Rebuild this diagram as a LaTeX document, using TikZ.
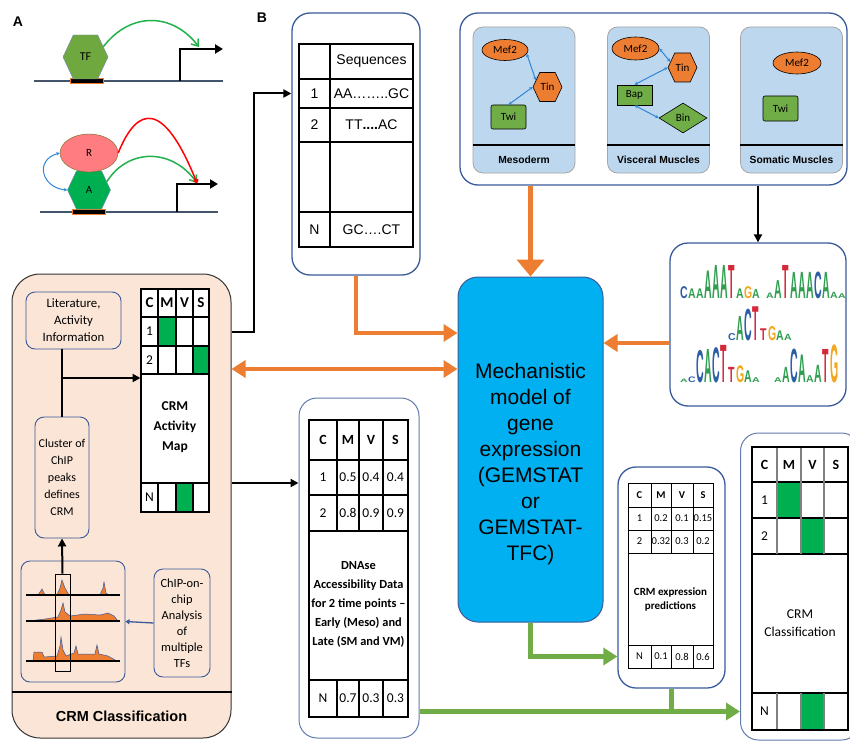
\documentclass[tikz,border=0pt]{standalone}
\usepackage{fontspec}
\setmainfont{Liberation Sans}
\newfontfamily\calib{Carlito}
\usepackage{xcolor}
\usepackage{tikz}
\usetikzlibrary{
  arrows.meta,
  positioning,
  calc,
  shapes.geometric,
  shapes.symbols}
\definecolor{boxblue}{HTML}{3A5A9A}
\definecolor{peach}{HTML}{FBE5D6}
\definecolor{cyanbox}{HTML}{00B0F0}
\definecolor{panelblue}{HTML}{BDD7EE}
\definecolor{orangeA}{HTML}{ED7D31}
\definecolor{greenA}{HTML}{70AD47}
\definecolor{greenC}{HTML}{00B050}
\definecolor{tfgreen}{HTML}{70A840}
\definecolor{pinkR}{HTML}{FF7C80}
\definecolor{slate}{HTML}{44546A}
\definecolor{linkblue}{HTML}{2E86D6}
\definecolor{curvegreen}{HTML}{22B14C}
\definecolor{mA}{HTML}{2E9E4F}
\definecolor{mC}{HTML}{2C5EA8}
\definecolor{mG}{HTML}{F2A81D}
\definecolor{mT}{HTML}{D62839}
\tikzset{rbox/.style={draw=boxblue, line width=1.3pt, rounded corners=18pt, fill=white, inner sep=0pt},
         sbox/.style={draw=boxblue, line width=0.9pt, rounded corners=9pt, fill=peach, inner sep=1pt, align=center,
                      font=\calib\fontsize{12.8}{17}\selectfont},
         subp/.style={draw=gray!70, fill=panelblue, rounded corners=10pt, minimum width=102, minimum height=146, line width=0.8pt},
         hexa/.style={signal, signal to=east and west, signal pointer angle=130, inner sep=0pt},
         tfn/.style={draw=black, line width=0.6pt, inner sep=0pt, font=\calib\fontsize{11}{12}\selectfont},
         dna/.style={draw=slate, line width=2pt},
         bar/.style={draw=orangeA, fill=black, line width=0.6pt, minimum width=33, minimum height=5, inner sep=0pt},
         prom/.style={draw=black, line width=2.2pt, -{Triangle[length=8pt,width=9pt]}},
         gline/.style={draw=curvegreen, line width=1.5pt, -{Straight Barb[length=6pt,width=9pt]}},
         rline/.style={draw=red, line width=1.5pt, -{Circle[length=5pt]}},
         blink/.style={draw=linkblue, line width=1pt, {Stealth[length=3.5pt,width=3.5pt]}-{Stealth[length=3.5pt,width=3.5pt]}},
         oarr/.style={draw=orangeA, line width=4.5pt, -{Triangle[length=14pt,width=17pt]}},
         garr/.style={draw=greenA, line width=4.5pt, -{Triangle[length=14pt,width=17pt]}},
         karr/.style={draw=black, line width=2pt, -{Triangle[length=8pt,width=8pt]}},
         tabl/.style={draw=black, line width=1.2pt},
         cell/.style={inner sep=0pt, font=\calib\fontsize{13.5}{15}\selectfont},
         hcell/.style={inner sep=0pt, font=\calib\bfseries\fontsize{14}{15}\selectfont},
         scell/.style={inner sep=0pt, font=\fontsize{14}{15}\selectfont}
        }
\newcommand{\mlogo}[4]{%
  \foreach \l/\h [count=\i] in {#4}
    \node[inner sep=0pt, anchor=south west, font=\bfseries\fontsize{10}{10}\selectfont]
      at ({#2+(\i-1)*8},#3)(#1\i){\scalebox{1.05}[\h]{\color{m\l}\l}};}

\begin{document}
\begin{tikzpicture}[x=1pt,y=-1pt]
\useasboundingbox (0,0) rectangle (850,741);

\node[font=\bfseries\fontsize{14}{16}\selectfont] at (18,22)(labA){A};
\node[font=\bfseries\fontsize{14}{16}\selectfont] at (262,18)(labB){B};

\draw[dna] (34,81) -- (223,81);
\node[bar] at (86.5,81)(bar1){};
\node[hexa, draw=boxblue!70, fill=tfgreen, minimum width=45, minimum height=44, font=\calib\fontsize{12}{13}\selectfont] at (85.5,57)(tf){TF};
\coordinate (tss1) at (199,47);
\draw[prom] (180,81) -- (180,49) -- (223,49);
\draw[gline] (tf.30) .. controls (130,12) and (172,12) .. (tss1);

\draw[dna] (40,212) -- (218,212);
\node[bar] at (89,212)(bar2){};
\node[hexa, draw=boxblue!70, fill=greenC, minimum width=43, minimum height=38, font=\calib\fontsize{11}{12}\selectfont] at (89,190)(actA){A};
\node[ellipse, draw=olive!70!black, fill=pinkR, minimum width=58, minimum height=38, inner sep=0pt, font=\calib\fontsize{11}{12}\selectfont] at (89,153)(repR){R};
\coordinate (tss2) at (197,183);
\draw[prom] (177,212) -- (177,184) -- (218,184);
\draw[gline] (actA.25) .. controls (128,148) and (172,148) .. (tss2);
\draw[rline] (repR.east) .. controls (138,104) and (164,102) .. (tss2);
\draw[blink] (repR.west) .. controls (34,160) and (42,188) .. (actA.west);

\node[draw=black!80, fill=peach, rounded corners=28pt, line width=1pt, minimum width=219, minimum height=464] at (121.5,506)(lbox){};
\draw[line width=1.3pt] (lbox.west |- 0,692) -- (lbox.east |- 0,692);
\node[font=\bfseries\fontsize{14.5}{16}\selectfont] at (121.5,716)(lclass){CRM Classification};
\node[sbox, minimum width=95, minimum height=57] at (73.5,320.5)(lit){Literature,\\Activity\\Information};
\node[sbox, minimum width=54, minimum height=121, font=\calib\fontsize{12}{17}\selectfont] at (62,477.5)(clu){Cluster of\\ChIP\\peaks\\defines\\CRM};
\node[sbox, minimum width=104, minimum height=121] at (73,621.5)(peaks){};
\node[sbox, minimum width=56, minimum height=108, font=\calib\fontsize{12.4}{16}\selectfont] at (182,623)(chip){ChIP-on-\\chip\\Analysis\\of\\multiple\\TFs};

\filldraw[fill=orangeA, draw=boxblue, line width=0.5pt] (27,595) -- (38,595) -- (42,589) -- (45,595) -- (57,595) -- (60,588) -- (62,580) -- (65,588) -- (69,595) -- (100,595) -- (103,588) -- (104,582) -- (106,593) -- (109,595) -- cycle;
\filldraw[fill=orangeA, draw=boxblue, line width=0.5pt] (28,621) -- (45,619) -- (58,617) -- (61,610) -- (63,603) -- (65,612) -- (70,616) -- (85,614) -- (100,615) -- (108,613) -- (114,616) -- (118,621) -- cycle;
\filldraw[fill=orangeA, draw=boxblue, line width=0.5pt] (33,661) -- (34,652) -- (42,652) -- (44,657) -- (57,656) -- (60,646) -- (61,637) -- (63,650) -- (66,656) -- (74,653) -- (76,646) -- (78,654) -- (95,654) -- (97,645) -- (99,654) -- (108,656) -- (117,661) -- cycle;
\foreach \yb in {595,621,661} \draw[line width=1.3pt] (26,\yb) -- (120,\yb);
\node[draw=black, line width=0.8pt, minimum width=15, minimum height=97, inner sep=0pt] at (62.5,622.5)(win){};

\node[draw=black, line width=1pt, fill=white, minimum width=68, minimum height=223, inner sep=0pt] at (175,400.5)(map){};
\fill[greenC] (158,317) rectangle (176,346) (193,346) rectangle (209,374) (176,483) rectangle (193,512);
\foreach \yl in {317,346,374,483} \draw[tabl] (141,\yl) -- (209,\yl);
\foreach \xl in {158,176,193} \draw[tabl] (\xl,289) -- (\xl,374) (\xl,483) -- (\xl,512);
\draw[tabl] (141,289) rectangle (209,512);
\foreach \t/\x [count=\i] in {C/149.5,M/167,V/184.5,S/201} \node[hcell, font=\calib\bfseries\fontsize{15}{16}\selectfont] at (\x,303)(mh\i){\t};
\node[cell] at (149.5,331.5)(map1){1};
\node[cell] at (149.5,360)(map2){2};
\node[cell] at (149.5,497.5)(mapN){N};
\node[align=center, font=\calib\bfseries\fontsize{13.5}{20}\selectfont] at (175,427)(maptxt){CRM\\Activity\\Map};

\node[rbox, minimum width=128, minimum height=262] at (356,144)(seqbox){};
\draw[line width=1.4pt] (299,44) rectangle (413,247);
\foreach \yl in {79,108,142,212} \draw[line width=1.4pt] (299,\yl) -- (413,\yl);
\draw[line width=1.4pt] (330,44) -- (330,247);
\node[scell] at (371.5,61.5)(seqh){Sequences};
\node[scell] at (314.5,93.5)(seq1){1};
\node[scell] at (371.5,93.5)(seq1s){AA……..GC};
\node[scell] at (314.5,125)(seq2){2};
\node[scell] at (371.5,125)(seq2s){TT\textbf{....}AC};
\node[scell] at (314.5,229.5)(seqN){N};
\node[scell] at (371.5,229.5)(seqNs){GC….CT};

\node[rbox, minimum width=387, minimum height=172] at (653.5,99)(panel){};
\foreach \cx/\lab/\nm in {524/Mesoderm/meso, 658.5/Visceral Muscles/visc, 791.5/Somatic Muscles/soma}{
  \node[subp] at (\cx,100)(\nm){};
  \draw[line width=1.3pt] (\nm.west |- 0,145) -- (\nm.east |- 0,145);
  \node[font=\bfseries\fontsize{10.3}{11}\selectfont] at (\cx,160)(\nm lab){\lab};
}
\node[tfn, ellipse, fill=orangeA, minimum width=46, minimum height=21] at (505,50)(mmef){Mef2};
\node[tfn, hexa, fill=orangeA, minimum width=29, minimum height=29] at (547.5,87)(mtin){Tin};
\node[tfn, rectangle, rounded corners=2pt, fill=greenA, minimum width=35, minimum height=24] at (508.5,117)(mtwi){Twi};
\draw[blink] (mmef.-10) -- (mtin.150);
\draw[blink] (mtin.west) -- (mtwi.north);
\node[tfn, ellipse, fill=orangeA, minimum width=47, minimum height=23] at (635.5,48.5)(vmef){Mef2};
\node[tfn, hexa, fill=orangeA, minimum width=29, minimum height=29] at (682.5,67.5)(vtin){Tin};
\node[tfn, rectangle, fill=greenA, minimum width=35, minimum height=20] at (634.5,95)(vbap){Bap};
\node[tfn, diamond, fill=greenA, minimum width=48, minimum height=30] at (683,118)(vbin){Bin};
\draw[blink] (vmef.east) -- (vtin.155);
\draw[blink] (vtin.west) -- (vbap.north);
\draw[blink] (vbap.south) -- (vbin.west);
\node[tfn, ellipse, fill=orangeA, minimum width=48, minimum height=22] at (797,63)(smef){Mef2};
\node[tfn, rectangle, rounded corners=2pt, fill=greenA, minimum width=35, minimum height=25] at (780.5,108.5)(stwi){Twi};

\node[rbox, minimum width=176, minimum height=163] at (758,324.5)(motif){};
\mlogo{la}{680}{299}{C/1.7,A/1.4,A/1.4,A/4.0,A/4.8,A/4.8,T/4.8,A/1.4,G/1.7,A/1.3}
\mlogo{lb}{766}{299}{A/0.8,A/2.6,T/4.8,A/3.8,A/3.8,A/3.8,C/3.8,A/3.8,A/0.9,A/0.7}
\mlogo{lc}{728}{341}{C/1.0,A/3.5,C/4.5,T/4.9,T/1.7,G/2.0,A/1.4,A/0.9}
\mlogo{ld}{680}{383}{A/0.5,C/0.8,C/4.6,A/4.8,C/5.0,T/5.4,T/2.2,G/2.4,A/1.7,A/0.7}
\mlogo{le}{774}{383}{A/0.7,A/2.2,C/4.8,A/4.0,A/1.0,A/2.5,T/4.8,G/5.4}

\node[draw=boxblue, line width=1pt, fill=cyanbox, rounded corners=20pt, minimum width=145, minimum height=345] at (530.5,449.5)(model){};
\node[align=center, font=\fontsize{21}{26}\selectfont] at (530.5,464)(modeltxt){Mechanistic\\model of\\gene\\expression\\(GEMSTAT\\or\\GEMSTAT-\\TFC)};

\node[rbox, draw=boxblue!80, line width=1pt, minimum width=120, minimum height=340] at (359,568)(dnabox){};
\foreach \yl in {460,495,531,680} \draw[tabl] (309,\yl) -- (408,\yl);
\foreach \xl in {337,359,383} \draw[tabl] (\xl,420) -- (\xl,531) (\xl,680) -- (\xl,717);
\draw[tabl] (309,420) rectangle (408,717);
\foreach \t/\x [count=\i] in {C/323,M/348,V/371,S/395.5} \node[hcell] at (\x,440)(dh\i){\t};
\foreach \a/\b/\c/\d/\y/\r in {1/0.5/0.4/0.4/477.5/1, 2/0.8/0.9/0.9/513/2, N/0.7/0.3/0.3/698.5/N}{
  \node[cell] at (323,\y)(dna\r){\a};
  \node[cell] at (348,\y)(dna\r m){\b};
  \node[cell] at (371,\y)(dna\r v){\c};
  \node[cell] at (395.5,\y)(dna\r s){\d};
}
\node[align=center, font=\calib\bfseries\fontsize{12.4}{19}\selectfont] at (358.5,604)(dnatxt){DNAse\\Accessibility Data\\for 2 time points –\\Early (Meso) and\\Late (SM and VM)};

\node[rbox, line width=1.3pt, minimum width=107, minimum height=221] at (671.5,577.5)(pred){};
\foreach \yl in {507,530,553,645} \draw[line width=1pt] (628,\yl) -- (713,\yl);
\foreach \xl in {651,671,693} \draw[line width=1pt] (\xl,483) -- (\xl,553) (\xl,645) -- (\xl,668);
\draw[line width=1pt] (628,483) rectangle (713,668);
\foreach \t/\x [count=\i] in {C/639.5,M/661,V/682,S/703} \node[hcell, font=\calib\bfseries\fontsize{10.5}{11}\selectfont] at (\x,495)(ph\i){\t};
\foreach \a/\b/\c/\d/\y/\r in {1/0.2/0.1/0.15/518.5/1, 2/0.32/0.3/0.2/541.5/2, N/0.1/0.8/0.6/656.5/N}{
  \node[cell, font=\calib\fontsize{10.5}{11}\selectfont] at (639.5,\y)(pred\r){\a};
  \node[cell, font=\calib\fontsize{10.5}{11}\selectfont] at (661,\y)(pred\r m){\b};
  \node[cell, font=\calib\fontsize{10.5}{11}\selectfont] at (682,\y)(pred\r v){\c};
  \node[cell, font=\calib\fontsize{10.5}{11}\selectfont] at (703,\y)(pred\r s){\d};
}
\node[align=center, font=\calib\bfseries\fontsize{11}{14}\selectfont] at (670.5,599)(predtxt){CRM expression\\predictions};

\node[rbox, draw=boxblue!80, line width=1pt, minimum width=119, minimum height=307] at (800,586.5)(clsbox){};
\fill[greenC] (777,482) rectangle (801,518) (801,518) rectangle (824,554) (801,693) rectangle (824,730);
\foreach \yl in {482,518,554,693} \draw[tabl] (752,\yl) -- (848,\yl);
\foreach \xl in {777,801,824} \draw[draw=gray, line width=1.6pt] (\xl,447) -- (\xl,554) (\xl,693) -- (\xl,730);
\draw[tabl] (752,447) rectangle (848,730);
\foreach \t/\x [count=\i] in {C/764.5,M/789,V/812.5,S/836} \node[hcell] at (\x,464.5)(ch\i){\t};
\node[cell] at (764.5,500)(cls1){1};
\node[cell] at (764.5,536)(cls2){2};
\node[cell] at (764.5,711.5)(clsN){N};
\node[align=center, font=\calib\fontsize{13.5}{18}\selectfont] at (800,623)(clstxt){CRM\\Classification};

\coordinate (dbl) at (0,369);
\coordinate (toseq) at (0,333);
\coordinate (todna) at (0,483);
\coordinate (tomot) at (0,343);
\coordinate (brk) at (0,378);
\draw[line width=2pt] (clu.north |- lit.south) -- (clu.north);
\draw[karr] (clu.north |- brk) -- (map.west |- brk);
\draw[karr] (win.north) -- (clu.south);
\draw[draw=boxblue, line width=1.3pt, -{Triangle[length=4pt,width=5pt]}] (chip.west) -- (peaks.east);
\draw[karr] (lbox.east |- map1) -- ++(22,0) |- (seqbox.west |- seq1);
\draw[oarr, {Triangle[length=14pt,width=17pt]}-{Triangle[length=14pt,width=17pt]}] (lbox.east |- dbl) -- (model.west |- dbl);
\draw[karr] (lbox.east |- todna) -- (dnabox.west |- todna);
\draw[oarr] (seqbox.south) |- (model.west |- toseq);
\draw[oarr, -{Triangle[length=17pt,width=27pt]}] (panel.south -| model.north) -- (model.north);
\draw[oarr] (motif.west |- tomot) -- (model.east |- tomot);
\draw[karr] (panel.south -| motif.north) -- (motif.north);
\draw[garr] (model.south) |- (pred.west |- predN);
\draw[draw=greenA, line width=4.5pt] (pred.south) -- (pred.south |- clsN);
\draw[garr] (dnabox.east |- clsN) -- (clsbox.west |- clsN);
\end{tikzpicture}
\end{document}
